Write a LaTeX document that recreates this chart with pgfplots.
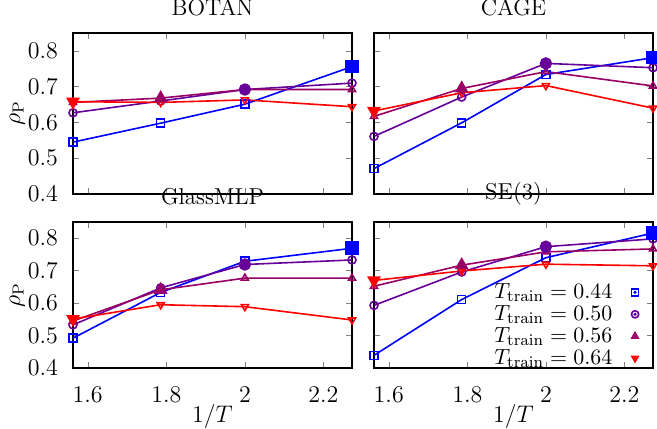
\documentclass[border=0pt]{standalone}
\usepackage{pgfplots}
\usepackage{pgfplotstable}
\pgfplotsset{compat=1.18}

\definecolor{c44}{RGB}{0,0,255}
\definecolor{c50}{RGB}{102,0,153}
\definecolor{c56}{RGB}{153,0,102}
\definecolor{c64}{RGB}{255,0,0}

% x = 1/T, columns = T_train
\pgfplotstableread{
x      a44   a50   a56   a64
1.5625 0.545 0.627 0.656 0.658
1.7857 0.598 0.660 0.668 0.656
2.0000 0.651 0.692 0.692 0.663
2.2727 0.756 0.710 0.692 0.644
}\botan
\pgfplotstableread{
x      a44   a50   a56   a64
1.5625 0.471 0.561 0.617 0.632
1.7857 0.599 0.671 0.695 0.683
2.0000 0.734 0.765 0.742 0.703
2.2727 0.781 0.753 0.702 0.640
}\cage
\pgfplotstableread{
x      a44   a50   a56   a64
1.5625 0.492 0.533 0.545 0.551
1.7857 0.633 0.647 0.641 0.595
2.0000 0.729 0.719 0.677 0.589
2.2727 0.769 0.733 0.677 0.548
}\glassmlp
\pgfplotstableread{
x      a44   a50   a56   a64
1.5625 0.439 0.593 0.652 0.670
1.7857 0.611 0.696 0.717 0.699
2.0000 0.740 0.774 0.758 0.720
2.2727 0.816 0.798 0.767 0.715
}\sethree

\pgfplotsset{
  panel/.style={
    scale only axis, width=139.5pt, anchor=north west,
    xmin=1.5625, xmax=2.2727, ymin=0.4, ymax=0.85,
    xtick={1.6,1.8,2,2.2}, ytick={0.4,0.5,0.6,0.7,0.8},
    tick align=inside, major tick length=3pt,
    tick label style={font=\fontsize{11.5}{13}\selectfont},
    title style={font=\fontsize{11.5}{13}\selectfont, yshift=-1pt},
    label style={font=\fontsize{11.5}{13}\selectfont},
    yticklabel style={/pgf/number format/fixed, /pgf/number format/precision=1,
      /pgf/number format/fixed zerofill, xshift=-4pt},
    xticklabel style={yshift=-6pt},
    xlabel style={at={(axis description cs:0.5,0)}, anchor=center, yshift=-24pt},
    ylabel style={at={(axis description cs:-0.2,0.5)}, anchor=center},
    axis line style={line width=0.8pt},
    every axis plot/.append style={line width=0.8pt, mark size=2pt},
  },
  s44/.style={color=c44, mark=square},
  s50/.style={color=c50, mark=o},
  s56/.style={color=c56, mark=triangle},
  s64/.style={color=c64, mark=triangle, mark options={rotate=180}},
}

\newcommand\drawpanel[1]{
  \addplot[s44] table[x=x, y=a44] {#1};
  \addplot[s50] table[x=x, y=a50] {#1};
  \addplot[s56] table[x=x, y=a56] {#1};
  \addplot[s64] table[x=x, y=a64] {#1};
  % training temperature, filled
  \addplot[forget plot, only marks, c44, mark=square*, mark size=3pt,
    skip coords between index={0}{3}] table[x=x, y=a44] {#1};
  \addplot[forget plot, only marks, c50, mark=*, mark size=2.7pt,
    skip coords between index={0}{2}, skip coords between index={3}{4}] table[x=x, y=a50] {#1};
  \addplot[forget plot, only marks, c56, mark=triangle*, mark size=3.2pt,
    skip coords between index={0}{1}, skip coords between index={2}{4}] table[x=x, y=a56] {#1};
  \addplot[forget plot, only marks, c64, mark=triangle*, mark size=3.2pt, mark options={rotate=180},
    skip coords between index={1}{4}] table[x=x, y=a64] {#1};
}

\begin{document}
\begin{tikzpicture}
\useasboundingbox (0,0) rectangle (328.5pt,-214pt);

\begin{axis}[panel, at={(36.5pt,-16.5pt)}, height=80.5pt, title={BOTAN},
  xticklabels={}, ylabel={$\rho_{\mathrm{P}}$}]
\drawpanel{\botan}
\end{axis}

\begin{axis}[panel, at={(187pt,-16.5pt)}, height=80.5pt, title={CAGE},
  xticklabels={}, yticklabels={}]
\drawpanel{\cage}
\end{axis}

\begin{axis}[panel, at={(36.5pt,-111pt)}, height=73pt, title={GlassMLP},
  ylabel={$\rho_{\mathrm{P}}$}, xlabel={$1/T$}]
\drawpanel{\glassmlp}
\end{axis}

\begin{axis}[panel, at={(187pt,-111pt)}, height=73pt, title={SE(3)},
  yticklabels={}, xlabel={$1/T$},
  legend plot pos=right,
  legend cell align=right,
  legend image code/.code={\path (0pt,0pt);
    \draw[#1, only marks, mark size=1.8pt] plot coordinates {(9pt,0pt)};
    \fill[#1] (9pt,0pt) circle (0.35pt);},
  legend style={draw=none, fill=none, at={(0.95,0.61)}, anchor=north east,
    inner sep=0pt, row sep=-2pt, font=\fontsize{11}{13}\selectfont}]
\drawpanel{\sethree}
\legend{$T_{\mathrm{train}}=0.44$, $T_{\mathrm{train}}=0.50$, $T_{\mathrm{train}}=0.56$, $T_{\mathrm{train}}=0.64$}
\end{axis}
\end{tikzpicture}
\end{document}
